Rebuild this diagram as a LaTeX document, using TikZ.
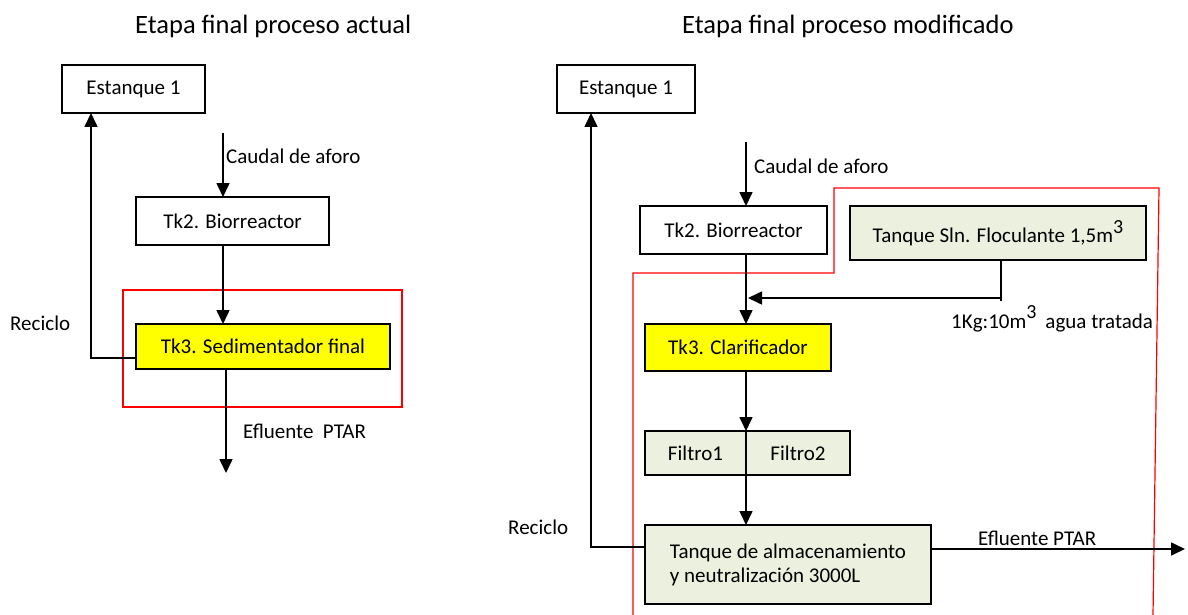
\documentclass[tikz,border=0pt]{standalone}
\usepackage{fontspec}
\setmainfont{Carlito}
\usetikzlibrary{arrows.meta,calc}
\definecolor{boxgreen}{HTML}{EBF1DE}
\definecolor{boxyellow}{HTML}{FFFF00}
\definecolor{redline}{HTML}{FF0000}
\newcommand{\supthree}{\raisebox{9.5pt}{\fontsize{20}{20}\selectfont 3}}
\begin{document}
\begin{tikzpicture}[x=1pt,y=-1pt,
  box/.style={draw, line width=1.8pt, inner sep=0pt, outer sep=0pt, anchor=north west,
    font=\fontsize{21}{25}\selectfont, align=center},
  greenbox/.style={box, fill=boxgreen},
  yellowbox/.style={box, fill=boxyellow},
  lbl/.style={inner sep=0pt, anchor=base west, font=\fontsize{21}{25}\selectfont},
  ttl/.style={inner sep=0pt, anchor=base west, font=\fontsize{26.5}{30}\selectfont},
  arr/.style={line width=1.6pt, -{Triangle[length=14pt,width=13pt]}},
  ln/.style={line width=1.6pt},
  redbox/.style={draw=redline, line width=1.2pt}]
\useasboundingbox (0,0) rectangle (1188,615);

% titles
\node[ttl] (t1) at (135,34) {Etapa final proceso actual};
\node[ttl] (t2) at (682,34) {Etapa final proceso modificado};

% ---------------- left diagram ----------------
\draw[redbox] (123,290) rectangle (402,407);
\node[box, minimum width=143pt, minimum height=48pt] (estL) at (62,65) {Estanque 1};
\node[box, minimum width=193pt, minimum height=48pt] (tk2L) at (136,197) {Tk2. Biorreactor};
\node[yellowbox, minimum width=254pt, minimum height=45pt] (tk3L) at (136,324) {Tk3. Sedimentador final};

\coordinate (cauL) at (223,133);
\coordinate (effL) at (226,473);
\coordinate (recL) at (91,358);
\draw[arr] (cauL) -- (cauL |- tk2L.north);
\draw[arr] (cauL |- tk2L.south) -- (cauL |- tk3L.north);
\draw[arr] (effL |- tk3L.south) -- (effL);
\draw[arr] (tk3L.west |- recL) -- (recL) -- (recL |- estL.south);

\node[lbl] (lcauL) at (226,164) {Caudal de aforo};
\node[lbl] (leffL) at (243,438) {Efluente\ \ PTAR};
\node[lbl] (lrecL) at (10,330) {Reciclo};

% ---------------- right diagram ----------------
\node[box, minimum width=138pt, minimum height=48pt] (estR) at (557,65) {Estanque 1};
\node[box, minimum width=187pt, minimum height=48pt] (tk2R) at (640,206) {Tk2. Biorreactor};
\node[greenbox, minimum width=296pt, minimum height=54pt] (flo) at (850,206) {Tanque Sln. Floculante 1,5m\supthree};
\node[yellowbox, minimum width=186pt, minimum height=47pt] (tk3R) at (645,324) {Tk3. Clarificador};
\node[greenbox, minimum width=101pt, minimum height=44pt] (f1) at (645,431) {Filtro1};
\node[greenbox, minimum width=104pt, minimum height=44pt] (f2) at (746,431) {Filtro2};
\node[greenbox, minimum width=286pt, minimum height=79pt, align=left] (alm) at (645,525)
  {Tanque de almacenamiento\\[-1pt]y neutralización 3000L};

\draw[redbox] (633,615) -- (633,273) -- (834,273) -- (834,188) -- (1159,188) -- (1153,615);

\coordinate (cauR) at (746,142);
\coordinate (floT) at (1001,301);
\coordinate (floA) at (748,298);
\coordinate (effR) at (1185,549);
\coordinate (recR) at (591,547);
\draw[arr] (cauR) -- (cauR |- tk2R.north);
\draw[arr] (cauR |- tk2R.south) -- (cauR |- tk3R.north);
\draw[ln] (floT |- flo.south) -- (floT);
\draw[arr] (floT |- floA) -- (floA);
\draw[arr] (cauR |- tk3R.south) -- (cauR |- f1.north);
\draw[arr] (cauR |- f1.south) -- (cauR |- alm.north);
\draw[arr] (alm.east |- effR) -- (effR);
\draw[arr] (alm.west |- recR) -- (recR) -- (recR |- estR.south);

\node[lbl] (lcauR) at (754,173) {Caudal de aforo};
\node[lbl] (ldose) at (951,328) {1Kg:10m\supthree\hspace{9pt}agua tratada};
\node[lbl] (leffR) at (978,545) {Efluente PTAR};
\node[lbl] (lrecR) at (508,534) {Reciclo};
\end{tikzpicture}
\end{document}
